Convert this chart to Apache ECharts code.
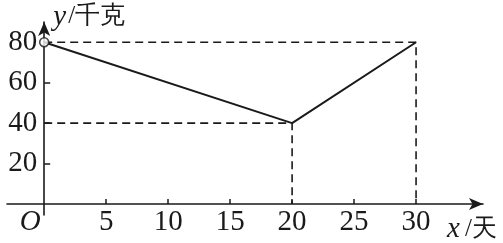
<!DOCTYPE html>
<html><head><meta charset="utf-8">
<script src="https://cdn.jsdelivr.net/npm/echarts@6/dist/echarts.min.js"></script>
<style>html,body{margin:0;padding:0;background:#fff}#c{width:503px;height:243px}</style>
</head><body><div id="c"></div>
<script>
// data
const days = [0, 20, 30];
const weights = [80, 40, 80];
const xTicks = [5, 10, 15, 20, 25, 30];
const yTicks = [20, 40, 60, 80];
const yMinorTicks = [20, 40, 60];
const xName = ['x', '/天'];
const yName = ['y', '/千克'];
const originLabel = 'O';

const mainLine = days.map((d, i) => [d, weights[i]]);
// guide lines from the turning points to the axes
const guide80 = [[days[0], weights[2]], [days[2], weights[2]], [days[2], 0]];
const guide40 = [[days[0], weights[1]], [days[1], weights[1]], [days[1], 0]];

const serif = 'Liberation Serif';
const ink = '#1a1a1a';
const X_MIN = -3, X_MAX = 35.4, Y_MIN = -5.4, Y_MAX = 90;

const chart = echarts.init(document.getElementById('c'), null, {renderer: 'canvas'});
chart.setOption({
  animation: false,
  backgroundColor: '#fff',
  grid: {left: 7, right: 20, top: 22, bottom: 28, containLabel: false, outerBoundsMode: 'none'},
  xAxis: {
    type: 'value', min: X_MIN, max: X_MAX,
    splitLine: {show: false},
    axisLine: {onZero: true, lineStyle: {color: ink, width: 1.6}, symbol: ['none', 'arrow'], symbolSize: [9, 14]},
    axisTick: {show: true, inside: true, length: 5, lineStyle: {color: ink, width: 1.5}, customValues: xTicks},
    axisLabel: {show: false}
  },
  yAxis: {
    type: 'value', min: Y_MIN, max: Y_MAX,
    splitLine: {show: false},
    axisLine: {onZero: true, lineStyle: {color: ink, width: 1.6}, symbol: ['none', 'arrow'], symbolSize: [9, 14]},
    axisTick: {show: true, inside: true, length: 6, lineStyle: {color: ink, width: 1.5}, customValues: yMinorTicks},
    axisLabel: {show: false}
  },
  series: [
    {type: 'line', data: guide80, symbol: 'none', lineStyle: {color: ink, width: 1.6, type: [8, 5]}, z: 2},
    {type: 'line', data: guide40, symbol: 'none', lineStyle: {color: ink, width: 1.6, type: [8, 5]}, z: 2},
    {type: 'line', data: mainLine, symbol: 'none', lineStyle: {color: ink, width: 2}, z: 3},
    {type: 'scatter', data: [mainLine[0]], symbol: 'circle', symbolSize: 9,
     itemStyle: {color: '#fff', borderColor: ink, borderWidth: 1.6}, z: 5}
  ]
});

// tick labels and axis names as text, positioned through the chart's own scales
const px = v => chart.convertToPixel({xAxisIndex: 0, yAxisIndex: 0}, v);
const origin = px([0, 0]);
const xEnd = px([X_MAX, 0]);
const yEnd = px([0, Y_MAX]);
const txt = (text, x, y, align, vAlign, size, italic) => ({
  type: 'text', x: x, y: y, silent: true, z: 10,
  style: {text: text, fontFamily: serif, fontSize: size, fontStyle: italic ? 'italic' : 'normal',
          fill: ink, align: align, verticalAlign: vAlign}
});
const g = [];
xTicks.forEach(v => g.push(txt(String(v), px([v, 0])[0], origin[1] + 18, 'center', 'middle', 29, false)));
yTicks.forEach(v => g.push(txt(String(v), origin[0] - 7, px([0, v])[1], 'right', 'middle', 29, false)));
g.push(txt(originLabel, origin[0] - 14, origin[1] + 18, 'center', 'middle', 29, true));
g.push(txt(yName[0], yEnd[0] + 9, yEnd[1] - 5, 'left', 'middle', 29, true));
g.push(txt(yName[1], yEnd[0] + 24, yEnd[1] - 6, 'left', 'middle', 25, false));
g.push(txt(xName[0], xEnd[0] - 36, origin[1] + 25, 'left', 'middle', 29, true));
g.push(txt(xName[1], xEnd[0] - 18, origin[1] + 25, 'left', 'middle', 25, false));
chart.setOption({graphic: g});
</script></body></html>
